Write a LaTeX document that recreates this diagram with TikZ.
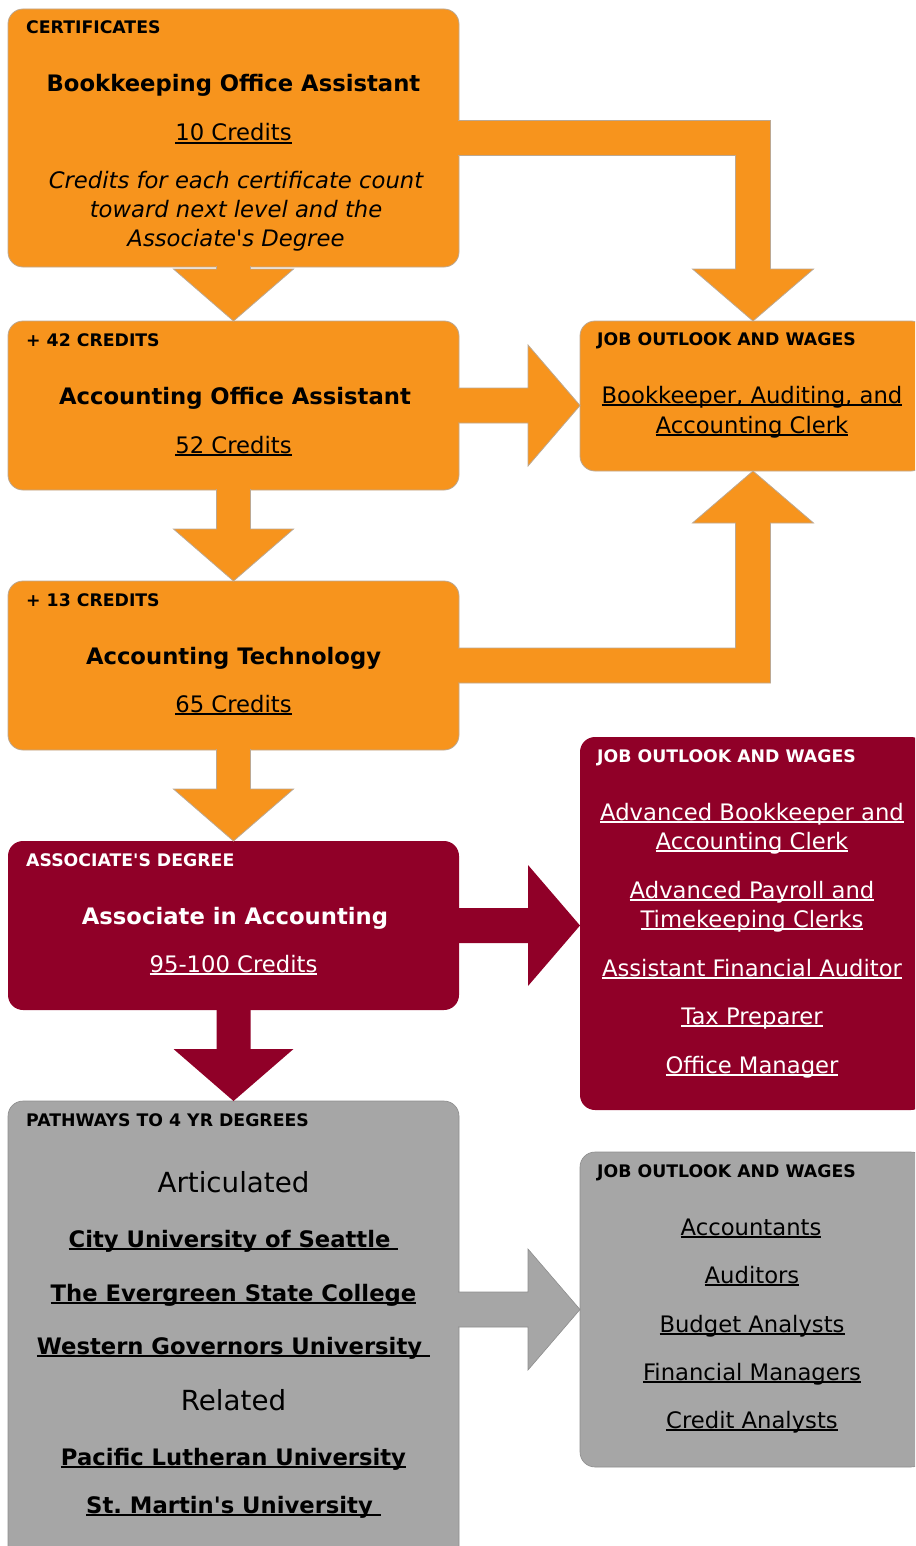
\documentclass[tikz,border=0pt]{standalone}
\usepackage{fontspec}
\setmainfont{DejaVu Sans}[Ligatures=TeXOff]
\usetikzlibrary{calc}
\frenchspacing
\definecolor{corange}{HTML}{F7941D}
\definecolor{cmaroon}{HTML}{900028}
\definecolor{cgray}{HTML}{A6A6A6}
\definecolor{cedge}{HTML}{BCA892}
\newsavebox\ulbox
\newcommand\myul[1]{\sbox\ulbox{#1}\rlap{\rule[-2.6pt]{\wd\ulbox}{1.3pt}}\usebox\ulbox}
\newcommand\hfont{\fontsize{17.3}{20}\selectfont\bfseries}
\newcommand\tfont{\fontsize{22.7}{29}\selectfont}
\newcommand\bigfont{\fontsize{27.7}{32}\selectfont}
\newcommand\DArrow[3]{%
  \path[#3] ($(#1.south)+(-17,-1)$) -- ($(#2.north)+(-17,-52)$) -- ($(#2.north)+(-60,-52)$) -- (#2.north) -- ($(#2.north)+(60,-52)$) -- ($(#2.north)+(17,-52)$) -- ($(#1.south)+(17,-1)$);}
\newcommand\RArrow[3]{%
  \path[#3] ($(#1)+(-1,-17.5)$) -- ($(#2)+(-52,-17.5)$) -- ($(#2)+(-52,-60.5)$) -- (#2) -- ($(#2)+(-52,60.5)$) -- ($(#2)+(-52,17.5)$) -- ($(#1)+(-1,17.5)$);}
\begin{document}
\begin{tikzpicture}[x=1pt,y=-1pt,
  box/.style={rectangle, rounded corners=15pt, inner sep=0pt, outer sep=0pt, anchor=north west},
  lbox/.style={box, minimum width=451pt},
  rbox/.style={box, minimum width=346pt},
  obox/.style={fill=corange, draw=cedge, line width=0.8pt},
  mbox/.style={fill=cmaroon},
  gbox/.style={fill=cgray, draw=cgray!85!black, line width=0.6pt},
  oarrow/.style={fill=corange, draw=cedge, line width=0.8pt},
  marrow/.style={fill=cmaroon},
  garrow/.style={fill=cgray, draw=cgray!85!black, line width=0.6pt},
  txt/.style={anchor=base, inner sep=0pt, font=\tfont},
  ttl/.style={txt, font=\tfont\bfseries},
  hd/.style={anchor=base west, inner sep=0pt, font=\hfont},
  wt/.style={text=white}
]
\useasboundingbox (0,0) rectangle (915,1546);
\clip (0,0) rectangle (915,1546);

% boxes
\node[lbox, obox, minimum height=258pt] (b1) at (8,9) {};
\node[lbox, obox, minimum height=169pt] (b2) at (8,321) {};
\node[lbox, obox, minimum height=169pt] (b3) at (8,581) {};
\node[lbox, mbox, minimum height=169pt] (b4) at (8,841) {};
\node[lbox, gbox, minimum height=470pt] (b5) at (8,1101) {};
\node[rbox, obox, minimum height=150pt] (r1) at (580,321) {};
\node[rbox, mbox, minimum height=373pt] (r2) at (580,737) {};
\node[rbox, gbox, minimum height=315pt] (r3) at (580,1152) {};

% down arrows
\DArrow{b1}{b2}{oarrow}
\DArrow{b2}{b3}{oarrow}
\DArrow{b3}{b4}{oarrow}
\DArrow{b4}{b5}{marrow}

% right arrows
\coordinate (t2) at (b2.east -| r1.west);
\RArrow{b2.east}{t2}{oarrow}
\coordinate (t4) at (b4.east -| r2.west);
\RArrow{b4.east}{t4}{marrow}
\coordinate (s5) at (b5.east |- r3.west);
\RArrow{s5}{r3.west}{garrow}

% bent arrows
\coordinate (k1) at (b1.east -| r1.north);
\path[oarrow] ($(b1.east)+(-1,-17.5)$) -- ($(k1)+(17.5,-17.5)$) -- ($(r1.north)+(17.5,-52)$) -- ($(r1.north)+(60.5,-52)$) -- (r1.north) -- ($(r1.north)+(-60.5,-52)$) -- ($(r1.north)+(-17.5,-52)$) -- ($(k1)+(-17.5,17.5)$) -- ($(b1.east)+(-1,17.5)$);
\coordinate (k2) at (b3.east -| r1.south);
\path[oarrow] ($(b3.east)+(-1,17.5)$) -- ($(k2)+(17.5,17.5)$) -- ($(r1.south)+(17.5,52)$) -- ($(r1.south)+(60.5,52)$) -- (r1.south) -- ($(r1.south)+(-60.5,52)$) -- ($(r1.south)+(-17.5,52)$) -- ($(k2)+(-17.5,-17.5)$) -- ($(b3.east)+(-1,-17.5)$);

% box 1 text
\node[hd] (h1) at (26,34) {CERTIFICATES};
\node[ttl] (t1) at (233.5,92) {Bookkeeping Office Assistant};
\node[txt] (c1) at (233.5,141) {\myul{10 Credits}};
\node[txt, font=\tfont\itshape] (i1a) at (236,189) {Credits for each certificate count};
\node[txt, font=\tfont\itshape] (i1b) at (236,218) {toward next level and the};
\node[txt, font=\tfont\itshape] (i1c) at (236,247) {Associate's Degree};

% box 2 text
\node[hd] (h2) at (26,346) {+ 42 CREDITS};
\node[ttl] (tt2) at (235,404) {Accounting Office Assistant};
\node[txt] (c2) at (233.5,453) {\myul{52 Credits}};

% box 3 text
\node[hd] (h3) at (26,606) {+ 13 CREDITS};
\node[ttl] (tt3) at (233.5,664) {Accounting Technology};
\node[txt] (c3) at (233.5,712) {\myul{65 Credits}};

% box 4 text
\node[hd, wt] (h4) at (26,866) {ASSOCIATE'S DEGREE};
\node[ttl, wt] (tt4) at (235,924) {Associate in Accounting};
\node[txt, wt] (c4) at (233.5,972) {\myul{95-100 Credits}};

% box 5 text
\node[hd] (h5) at (26,1126) {PATHWAYS TO 4 YR DEGREES};
\node[txt, font=\bigfont] (a5) at (233.5,1192) {Articulated};
\node[ttl] (u1) at (233.5,1247) {\myul{City University of Seattle\ }};
\node[ttl] (u2) at (233.5,1301) {\myul{The Evergreen State College}};
\node[ttl] (u3) at (233.5,1354) {\myul{Western Governors University\ }};
\node[txt, font=\bigfont] (rl5) at (233.5,1410) {Related};
\node[ttl] (u4) at (233.5,1465) {\myul{Pacific Lutheran University}};
\node[ttl] (u5) at (233.5,1513) {\myul{St. Martin's University\ }};

% right box 1 text
\node[hd] (rh1) at (597,345) {JOB OUTLOOK AND WAGES};
\node[txt] (j1a) at (752,403) {\myul{Bookkeeper, Auditing, and}};
\node[txt] (j1b) at (752,433) {\myul{Accounting Clerk}};

% right box 2 text
\node[hd, wt] (rh2) at (597,762) {JOB OUTLOOK AND WAGES};
\node[txt, wt] (j2a) at (752,820) {\myul{Advanced Bookkeeper and}};
\node[txt, wt] (j2b) at (752,849) {\myul{Accounting Clerk}};
\node[txt, wt] (j2c) at (752,898) {\myul{Advanced Payroll and}};
\node[txt, wt] (j2d) at (752,927) {\myul{Timekeeping Clerks}};
\node[txt, wt] (j2e) at (752,976) {\myul{Assistant Financial Auditor}};
\node[txt, wt] (j2f) at (752,1024) {\myul{Tax Preparer}};
\node[txt, wt] (j2g) at (752,1073) {\myul{Office Manager}};

% right box 3 text
\node[hd] (rh3) at (597,1177) {JOB OUTLOOK AND WAGES};
\node[txt] (j3a) at (751,1235) {\myul{Accountants}};
\node[txt] (j3b) at (752,1283) {\myul{Auditors}};
\node[txt] (j3c) at (752,1332) {\myul{Budget Analysts}};
\node[txt] (j3d) at (752,1380) {\myul{Financial Managers}};
\node[txt] (j3e) at (752,1428) {\myul{Credit Analysts}};
\end{tikzpicture}
\end{document}
